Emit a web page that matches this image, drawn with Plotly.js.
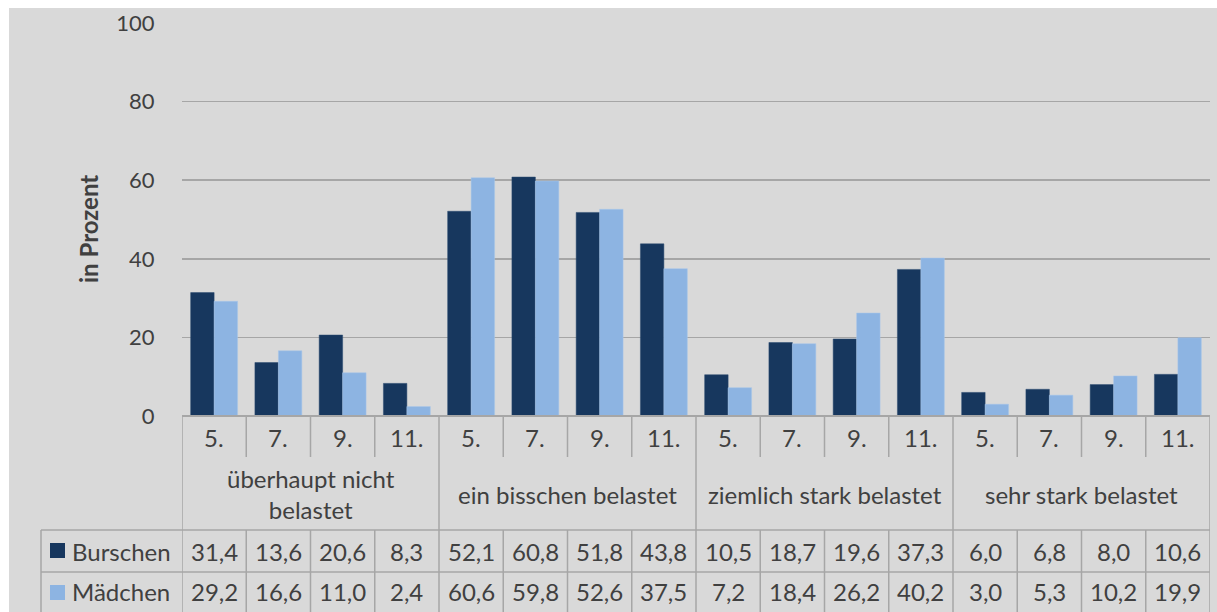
<!DOCTYPE html>
<html>
<head>
<meta charset="utf-8">
<script src="https://cdn.plot.ly/plotly-3.0.1.min.js"></script>
<style>html,body{margin:0;padding:0;background:#fff;}#chart{width:1217px;height:612px;}</style>
</head>
<body>
<div id="chart"></div>
<script>
const grades = ["5.", "7.", "9.", "11."];
const groups = ["überhaupt nicht<br>belastet", "ein bisschen belastet", "ziemlich stark belastet", "sehr stark belastet"];
const seriesNames = ["Burschen", "Mädchen"];
const burschen = [31.4, 13.6, 20.6, 8.3, 52.1, 60.8, 51.8, 43.8, 10.5, 18.7, 19.6, 37.3, 6.0, 6.8, 8.0, 10.6];
const maedchen = [29.2, 16.6, 11.0, 2.4, 60.6, 59.8, 52.6, 37.5, 7.2, 18.4, 26.2, 40.2, 3.0, 5.3, 10.2, 19.9];
const colors = ["#17375E", "#8DB4E2"];

const W = 1217, H = 612;
const L = 182, R = 1210, T = 23, B = 416;
const px = x => (x - L) / (R - L);
const py = y => (B - y) / (B - T);
const lineCol = "#A6A6A6";
const txtCol = "#404040";
const font = "Lato, 'Open Sans', sans-serif";
const tfs = 24;

const n = burschen.length;
const xs = burschen.map((_, i) => i);
const cats = xs.map(i => grades[i % grades.length]);
const fmt = v => v.toFixed(1).replace(".", ",");

const traces = [
  {type: "bar", name: seriesNames[0], x: xs, y: burschen, marker: {color: colors[0], line: {color: "#2b4a70", width: 0.5}}, hoverinfo: "y"},
  {type: "bar", name: seriesNames[1], x: xs, y: maedchen, marker: {color: colors[1], line: {color: "#a9c6ea", width: 0.5}}, hoverinfo: "y"}
];

const shapes = [];
const ann = [];
shapes.push({type: "rect", xref: "paper", yref: "paper", x0: px(9), x1: px(W + 5), y0: py(8), y1: py(H + 5), fillcolor: "#D9D9D9", line: {width: 0}, layer: "below"});
shapes.push({type: "line", xref: "paper", yref: "paper", x0: 0, x1: 1, y0: 0, y1: 0, line: {color: lineCol, width: 2}});
for (let k = 0; k <= n; k++) {
  const xv = k - 0.5;
  if (k % 4 === 0) {
    shapes.push({type: "line", xref: "x", yref: "paper", x0: xv, x1: xv, y0: py(416), y1: py(H + 2), line: {color: lineCol, width: 1.5}});
  } else {
    shapes.push({type: "line", xref: "x", yref: "paper", x0: xv, x1: xv, y0: py(416), y1: py(457), line: {color: lineCol, width: 1.5}});
    shapes.push({type: "line", xref: "x", yref: "paper", x0: xv, x1: xv, y0: py(530), y1: py(H + 2), line: {color: lineCol, width: 1.5}});
  }
}
shapes.push({type: "line", xref: "paper", yref: "paper", x0: px(41), x1: px(41), y0: py(530), y1: py(H + 2), line: {color: lineCol, width: 1.5}});
[530, 572].forEach(y => shapes.push({type: "line", xref: "paper", yref: "paper", x0: px(41), x1: 1, y0: py(y), y1: py(y), line: {color: lineCol, width: 1.5}}));
[543, 585].forEach((y, i) => shapes.push({type: "rect", xref: "paper", yref: "paper", x0: px(50), x1: px(65), y0: py(y), y1: py(y + 15), fillcolor: colors[i], line: {width: 0}}));

xs.forEach(i => ann.push({xref: "x", yref: "paper", x: i, y: py(437), text: cats[i], showarrow: false, font: {family: font, size: tfs, color: txtCol}, xanchor: "center", yanchor: "middle"}));
groups.forEach((g, j) => ann.push({xref: "x", yref: "paper", x: j * 4 + 1.5, y: py(494), text: g, showarrow: false, font: {family: font, size: tfs, color: txtCol}, xanchor: "center", yanchor: "middle"}));
[burschen, maedchen].forEach((arr, r) => {
  const yc = r === 0 ? 551 : 591;
  arr.forEach((v, i) => ann.push({xref: "x", yref: "paper", x: i, y: py(yc), text: fmt(v), showarrow: false, font: {family: font, size: tfs, color: txtCol}, xanchor: "center", yanchor: "middle"}));
  ann.push({xref: "paper", yref: "paper", x: px(70), y: py(yc), text: seriesNames[r], showarrow: false, font: {family: font, size: tfs, color: txtCol}, xanchor: "left", yanchor: "middle"});
});
ann.push({xref: "paper", yref: "paper", x: px(88), y: py(229), text: "<b>in Prozent</b>", textangle: -90, showarrow: false, font: {family: font, size: 24, color: txtCol}, xanchor: "center", yanchor: "middle"});

const layout = {
  width: W, height: H,
  margin: {l: L, r: W - R, t: T, b: H - B, pad: 0},
  paper_bgcolor: "#FFFFFF",
  plot_bgcolor: "rgba(0,0,0,0)",
  showlegend: false,
  barmode: "group",
  bargap: 0.27,
  bargroupgap: 0,
  font: {family: font, color: txtCol},
  xaxis: {range: [-0.5, n - 0.5], showticklabels: false, showgrid: false, zeroline: false, showline: false, ticks: "", fixedrange: true},
  yaxis: {range: [0, 100], dtick: 20, tick0: 0, showgrid: true, gridcolor: lineCol, gridwidth: 1.5, zeroline: false, showline: false,
          ticks: "outside", ticklen: 22, tickcolor: "rgba(0,0,0,0)", tickfont: {family: font, size: 22, color: txtCol}, fixedrange: true},
  shapes: shapes,
  annotations: ann
};

Plotly.newPlot("chart", traces, layout, {displayModeBar: false, staticPlot: true});
</script>
</body>
</html>
